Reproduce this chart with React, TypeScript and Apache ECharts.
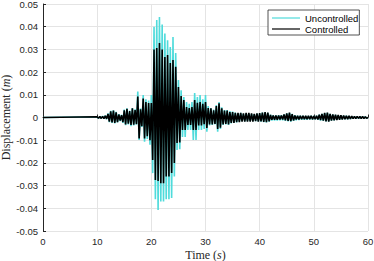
import React, { useEffect, useRef } from "react";
import * as echarts from "echarts";

// Time axis
const X_TICKS = [0, 10, 20, 30, 40, 50, 60];
const SIGNAL_START = 10; // s, signal flat before
const SIGNAL_STEP = 0.25; // s between successive peaks
const SIGNAL_END = 60;

// Peak displacements (mm), alternating +/- every 0.25 s, starting at t = 10 s (one row per second)
const UNCONTROLLED_MM = [
  0.3, -0.4, 0.5, -0.4,
  0.6, -0.5, 0.8, -0.7,
  1.8, -2.0, 2.9, -2.4,
  3.2, -2.6, 2.5, -2.2,
  1.5, -1.6, 1.2, -2.4,
  3.5, -3.4, 4.0, -3.0,
  3.0, -3.8, 4.2, -3.5,
  3.6, -3.2, 11.4, -9.9,
  4.0, -4.2, 9.9, -10.7,
  8.0, -9.5, 7.5, -12.0,
  9.9, -24.5, 40.0, -36.0,
  43.0, -40.7, 44.3, -37.0,
  41.0, -37.0, 37.0, -36.0,
  34.0, -36.0, 31.0, -35.5,
  35.5, -26.0, 28.4, -14.3,
  16.5, -14.0, 12.0, -8.6,
  9.0, -8.6, 6.8, -5.5,
  6.0, -5.5, 6.8, -9.9,
  10.8, -9.9, 9.0, -5.5,
  9.9, -5.5, 8.0, -5.0,
  9.9, -6.3, 5.0, -3.5,
  4.2, -3.3, 3.5, -3.0,
  5.5, -6.3, 6.8, -5.0,
  4.5, -3.3, 3.3, -3.0,
  3.3, -3.3, 2.8, -2.6,
  2.6, -2.4, 2.2, -2.2,
  1.8, -1.8, 2.0, -1.6,
  1.6, -1.7, 1.8, -1.6,
  1.8, -1.6, 1.6, -1.6,
  1.5, -1.6, 1.7, -1.7,
  1.8, -1.8, 2.1, -2.0,
  2.3, -2.2, 2.0, -1.8,
  1.2, -1.4, 1.0, -1.3,
  0.9, -1.3, 1.0, -1.2,
  1.0, -1.2, 1.4, -1.5,
  1.8, -1.7, 2.0, -1.8,
  1.6, -1.5, 1.0, -1.2,
  0.8, -1.1, 0.8, -1.0,
  0.8, -1.0, 0.7, -1.0,
  0.7, -0.9, 0.8, -0.9,
  0.6, -0.8, 0.8, -1.0,
  1.2, -1.3, 1.6, -1.5,
  1.9, -1.7, 2.0, -1.7,
  1.6, -1.4, 1.3, -1.2,
  1.1, -1.0, 1.0, -0.9,
  0.9, -0.8, 0.8, -0.8,
  0.7, -0.7, 0.6, -0.6,
  0.5, -0.5, 0.5, -0.5,
  0.4, -0.4, 0.4, -0.4,
  0.4, -0.3, 0.3, -0.3,
];

const CONTROLLED_MM = [
  0.3, -0.3, 0.4, -0.4,
  0.5, -0.5, 0.7, -0.6,
  1.6, -1.8, 2.7, -2.2,
  3.0, -2.4, 2.3, -2.0,
  1.3, -1.3, 1.0, -2.0,
  3.2, -3.0, 3.8, -2.7,
  2.8, -3.3, 4.0, -3.2,
  3.3, -2.9, 9.2, -9.2,
  3.6, -3.8, 8.4, -9.2,
  6.8, -8.3, 6.4, -10.0,
  6.4, -18.7, 30.0, -27.5,
  30.6, -28.0, 32.8, -29.0,
  30.0, -29.0, 26.7, -26.0,
  27.5, -26.0, 24.0, -24.5,
  25.3, -20.0, 22.3, -11.2,
  13.4, -11.0, 9.5, -5.5,
  7.7, -5.5, 4.6, -3.3,
  4.2, -3.3, 4.6, -5.5,
  7.7, -5.5, 6.5, -3.5,
  6.8, -3.5, 6.0, -3.0,
  6.8, -4.6, 4.2, -3.0,
  4.0, -3.0, 3.2, -2.8,
  5.0, -5.0, 6.3, -4.5,
  4.0, -3.0, 3.0, -2.8,
  3.0, -3.0, 2.4, -2.4,
  2.4, -2.4, 2.0, -2.0,
  2.0, -2.0, 2.0, -1.8,
  1.8, -1.8, 2.0, -1.8,
  2.0, -1.8, 1.8, -1.8,
  1.6, -1.6, 1.8, -1.8,
  1.9, -1.7, 2.2, -1.9,
  2.4, -2.0, 2.1, -1.7,
  1.1, -1.0, 0.9, -1.0,
  0.9, -1.0, 0.9, -0.9,
  0.9, -0.9, 1.3, -1.2,
  1.8, -1.5, 2.1, -1.6,
  1.5, -1.3, 0.9, -0.9,
  0.8, -0.9, 0.8, -0.8,
  0.8, -0.8, 0.7, -0.8,
  0.7, -0.7, 0.8, -0.8,
  0.6, -0.7, 0.8, -0.9,
  1.2, -1.1, 1.6, -1.4,
  2.0, -1.7, 2.1, -1.8,
  1.6, -1.4, 1.4, -1.2,
  1.2, -1.1, 1.1, -1.0,
  1.0, -0.9, 0.9, -0.8,
  0.8, -0.7, 0.7, -0.6,
  0.6, -0.5, 0.5, -0.5,
  0.5, -0.4, 0.4, -0.4,
  0.4, -0.4, 0.3, -0.3,
];

const SERIES_NAMES = ["Uncontrolled", "Controlled"];
const SERIES_COLORS = ["#4fdbdb", "#000000"];

function toSeries(mm: number[]): [number, number][] {
  const pts: [number, number][] = [[0, 0]];
  mm.forEach((v, i) => pts.push([SIGNAL_START + i * SIGNAL_STEP, v / 1000]));
  pts.push([SIGNAL_END, 0]);
  return pts;
}

const SANS = "'Liberation Sans', Arial, Helvetica, sans-serif";
const SERIF = "'Liberation Serif', 'Times New Roman', serif";
const AXIS_COLOR = "#262626";
const GRID_COLOR = "#e4e4e4";

export default function App() {
  const ref = useRef<HTMLDivElement>(null);
  useEffect(() => {
    if (!ref.current) return;
    const chart = echarts.init(ref.current, undefined, { renderer: "svg" });
    chart.setOption({
      animation: false,
      backgroundColor: "#ffffff",
      grid: {
        left: 43,
        top: 4,
        width: 325,
        height: 227,
        containLabel: false,
        outerBoundsMode: "none",
      },
      legend: {
        show: true,
        data: SERIES_NAMES.map((n, i) => ({
          name: n,
          icon: "rect",
          itemStyle: { color: SERIES_COLORS[i] },
        })),
        orient: "vertical",
        left: 268,
        top: 10,
        itemWidth: 28,
        itemHeight: 1.2,
        itemGap: 1,
        itemTextGap: 2,
        padding: [3, 1, 1, 4],
        backgroundColor: "#ffffff",
        borderColor: AXIS_COLOR,
        borderWidth: 0.8,
        borderRadius: 0,
        textStyle: { fontFamily: SANS, fontSize: 9.5, color: "#000", lineHeight: 10 },
      },
      xAxis: {
        type: "value",
        min: 0,
        max: 60,
        interval: 10,
        name: "Time ({i|s})",
        nameLocation: "middle",
        nameGap: 18,
        nameMoveOverlap: false,
        nameTextStyle: {
          fontFamily: SERIF,
          fontSize: 12,
          color: AXIS_COLOR,
          rich: { i: { fontFamily: SERIF, fontSize: 12, fontStyle: "italic", color: AXIS_COLOR } },
        },
        axisLine: { show: true, lineStyle: { color: AXIS_COLOR, width: 1 } },
        axisTick: { show: true, inside: true, length: 3, lineStyle: { color: AXIS_COLOR } },
        axisLabel: {
          fontFamily: SANS,
          fontSize: 9.5,
          color: AXIS_COLOR,
          margin: 5,
          formatter: (v: number) => (X_TICKS.includes(v) ? String(v) : ""),
        },
        splitLine: { show: true, lineStyle: { color: GRID_COLOR, width: 1 } },
      },
      yAxis: {
        type: "value",
        min: -0.05,
        max: 0.05,
        interval: 0.01,
        name: "Displacement ({i|m})",
        nameLocation: "middle",
        nameGap: 31,
        nameMoveOverlap: false,
        nameTextStyle: {
          fontFamily: SERIF,
          fontSize: 12,
          color: AXIS_COLOR,
          rich: { i: { fontFamily: SERIF, fontSize: 12, fontStyle: "italic", color: AXIS_COLOR } },
        },
        axisLine: { show: true, lineStyle: { color: AXIS_COLOR, width: 1 } },
        axisTick: { show: true, inside: true, length: 3, lineStyle: { color: AXIS_COLOR } },
        axisLabel: {
          fontFamily: SANS,
          fontSize: 9.5,
          color: AXIS_COLOR,
          margin: 5,
          formatter: (v: number) => {
            const n = Number(v.toFixed(2));
            return n === 0 ? "0" : String(n);
          },
        },
        splitLine: { show: true, lineStyle: { color: GRID_COLOR, width: 1 } },
      },
      series: [
        {
          name: SERIES_NAMES[0],
          type: "line",
          data: toSeries(UNCONTROLLED_MM),
          symbol: "none",
          showSymbol: false,
          lineStyle: { color: SERIES_COLORS[0], width: 1.6 },
          itemStyle: { color: SERIES_COLORS[0] },
          z: 2,
        },
        {
          name: SERIES_NAMES[1],
          type: "line",
          data: toSeries(CONTROLLED_MM),
          symbol: "none",
          showSymbol: false,
          lineStyle: { color: SERIES_COLORS[1], width: 1.6 },
          itemStyle: { color: SERIES_COLORS[1] },
          z: 3,
        },
      ],
    });
    return () => chart.dispose();
  }, []);
  return (
    <div
      ref={ref}
      style={{ position: "fixed", left: 0, top: 0, width: 374, height: 261, background: "#fff" }}
    />
  );
}
